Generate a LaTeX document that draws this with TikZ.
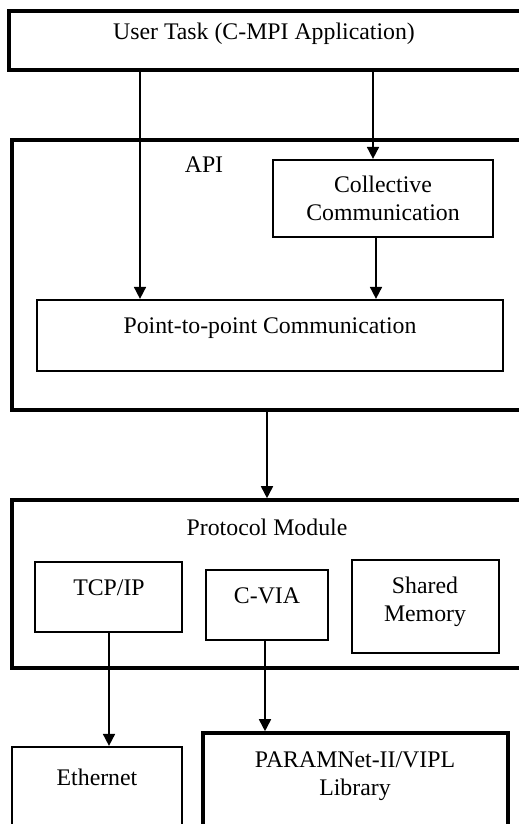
\documentclass[tikz,border=0pt]{standalone}
\usepackage{fontspec}
\setmainfont{Liberation Serif}
\usetikzlibrary{arrows.meta}

\tikzset{
  heavybox/.style={draw, line width=3.6pt, rectangle},
  lightbox/.style={draw, line width=2.2pt, rectangle},
  lbl/.style={anchor=base, inner sep=0pt, font=\fontsize{23.8}{27.5}\selectfont},
  arr/.style={line width=1.7pt, -{Triangle[length=12pt,width=12pt]}},
}

\begin{document}
\begin{tikzpicture}[x=1pt,y=-1pt]
\clip (0,0) rectangle (519,824);
\useasboundingbox (0,0) rectangle (519,824);

\node[heavybox, minimum width=512pt, minimum height=59pt] (usr) at (265,40.5) {};
\node[heavybox, minimum width=510pt, minimum height=270pt] (api) at (267,275) {};
\node[lightbox, minimum width=220pt, minimum height=77pt] (coll) at (383,198.5) {};
\node[lightbox, minimum width=466pt, minimum height=71pt] (ptp) at (270,335.5) {};
\node[heavybox, minimum width=510pt, minimum height=168pt] (proto) at (267,584) {};
\node[lightbox, minimum width=147pt, minimum height=70pt] (tcp) at (108.5,597) {};
\node[lightbox, minimum width=122pt, minimum height=70pt] (cvia) at (267,605) {};
\node[lightbox, minimum width=147pt, minimum height=93pt] (shm) at (425.5,606.5) {};
\node[lightbox, minimum width=170pt, minimum height=100pt] (eth) at (97,797) {};
\node[heavybox, minimum width=305pt, minimum height=110pt] (param) at (355.5,788) {};

\node[lbl] (usrtxt) at (264,40) {User Task (C-MPI Application)};
\node[lbl] (apitxt) at (204,172) {API};
\node[lbl, align=center] (colltxt) at (383,220) {Collective\\Communication};
\node[lbl] (ptptxt) at (270,333) {Point-to-point Communication};
\node[lbl] (prototxt) at (267,535) {Protocol Module};
\node[lbl] (tcptxt) at (109,595) {TCP/IP};
\node[lbl] (cviatxt) at (267,603) {C-VIA};
\node[lbl, align=center] (shmtxt) at (425,621) {Shared\\Memory};
\node[lbl] (ethtxt) at (97,785) {Ethernet};
\node[lbl, align=center] (paramtxt) at (355,795) {PARAMNet-II/VIPL\\Library};

\draw[arr] (140,0 |- usr.south) -- (140,0 |- ptp.north);
\draw[arr] (373,0 |- usr.south) -- (373,0 |- coll.north);
\draw[arr] (376,0 |- coll.south) -- (376,0 |- ptp.north);
\draw[arr] (267,0 |- api.south) -- (267,0 |- proto.north);
\draw[arr] (109,0 |- tcp.south) -- (109,0 |- eth.north);
\draw[arr] (265,0 |- cvia.south) -- (265,0 |- param.north);
\end{tikzpicture}
\end{document}
